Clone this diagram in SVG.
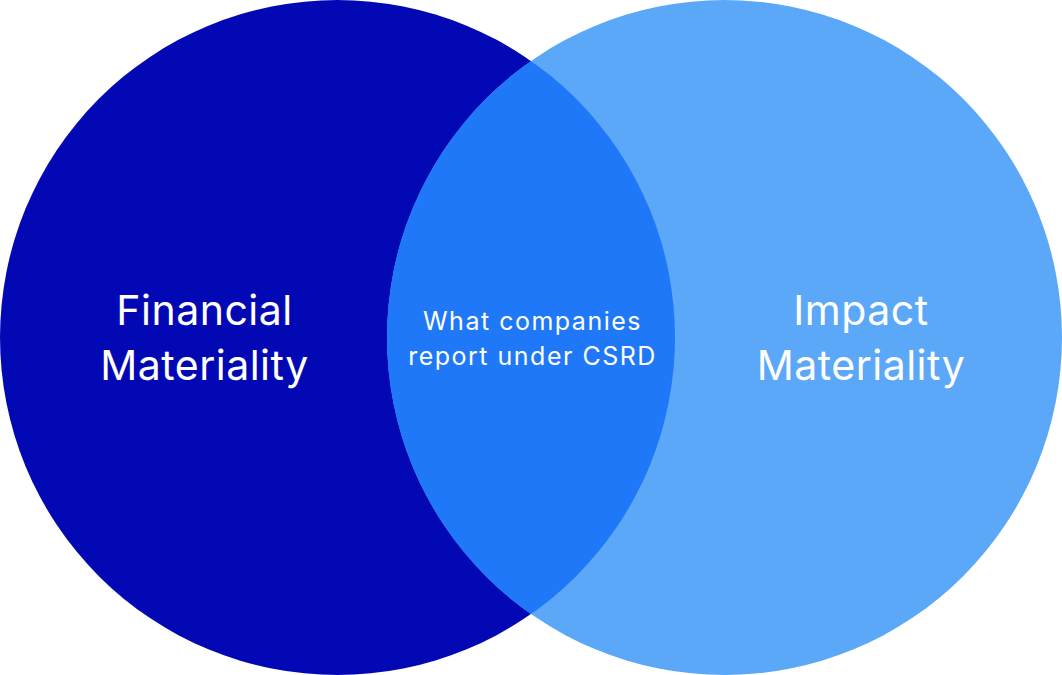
<svg xmlns="http://www.w3.org/2000/svg" width="1062" height="675" viewBox="0 0 1062 675">
<style>
.t{font-family:"Inter","Noto Sans","Liberation Sans",sans-serif;fill:#ffffff;text-anchor:middle}
.big{font-size:41px;letter-spacing:0.5px}
.small{font-size:25px;letter-spacing:1.5px}
</style>
<defs>
<clipPath id="leftClip"><circle cx="337.5" cy="337.5" r="337.5"/></clipPath>
</defs>
<rect width="1062" height="675" fill="#ffffff"/>
<g id="financial">
<circle cx="337.5" cy="337.5" r="337.5" fill="#0209B4"/>
<text class="t big" x="204.5" y="325">Financial</text>
<text class="t big" x="204.5" y="380">Materiality</text>
</g>
<g id="impact">
<circle cx="724.5" cy="337.5" r="337.5" fill="#5CA8F8"/>
<text class="t big" x="861" y="325">Impact</text>
<text class="t big" x="861" y="380">Materiality</text>
</g>
<g id="overlap">
<circle cx="724.5" cy="337.5" r="337.5" fill="#1F78F7" clip-path="url(#leftClip)"/>
<text class="t small" x="532.5" y="330">What companies</text>
<text class="t small" x="532.5" y="365">report under CSRD</text>
</g>
<g id="connectors"></g>
</svg>
